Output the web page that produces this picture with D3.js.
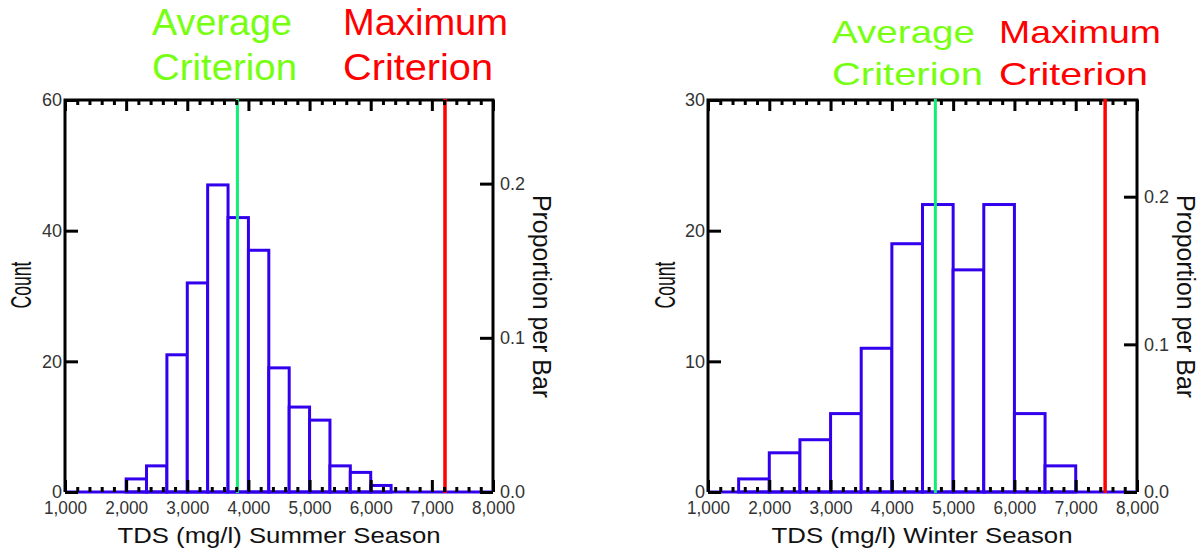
<!DOCTYPE html>
<html lang="en">
<head>
<meta charset="utf-8" />
<title>TDS histograms, summer and winter</title>
<script src="https://d3js.org/d3.v7.min.js"></script>
<style>
  body { margin: 0; background: #fff; }
  svg { display: block; font-family: Arial, "Liberation Sans", Helvetica, sans-serif; }
</style>
</head>
<body>
<script>
// bin edges (mg/l) and counts
var summerEdges = [2000, 2333.3, 2666.7, 3000, 3333.3, 3666.7, 4000, 4333.3, 4666.7, 5000, 5333.3, 5666.7, 6000, 6333.3];
var summerCounts = [2, 4, 21, 32, 47, 42, 37, 19, 13, 11, 4, 3, 1];
var winterEdges = [1500, 2000, 2500, 3000, 3500, 4000, 4500, 5000, 5500, 6000, 6500, 7000];
var winterCounts = [1, 3, 4, 6, 11, 19, 22, 17, 22, 6, 2];

var tdsTicks = [1000, 2000, 3000, 4000, 5000, 6000, 7000, 8000];
var tdsMinorTicks = [1200, 1400, 1600, 1800, 2200, 2400, 2600, 2800, 3200, 3400, 3600, 3800,
                     4200, 4400, 4600, 4800, 5200, 5400, 5600, 5800, 6200, 6400, 6600, 6800,
                     7200, 7400, 7600, 7800];
var summerCountTicks = [0, 20, 40, 60];
var winterCountTicks = [0, 10, 20, 30];
var proportionTicks = [0.0, 0.1, 0.2];

// average / maximum criterion lines (mg/l)
var summerCriteria = [3820, 7215];
var winterCriteria = [4710, 7480];
var criteriaNames = [["Average", "Criterion"], ["Maximum", "Criterion"]];
var xTitles = ["TDS (mg/l) Summer Season", "TDS (mg/l) Winter Season"];

var blue = "#3300ee";
var critColors = ["#11ee77", "#ff0000"];
var critTextColors = ["#77ff11", "#ff0000"];

var svg = d3.select("body").append("svg")
  .attr("width", 1204)
  .attr("height", 554);

var panels = [
  { edges: summerEdges, counts: summerCounts, countTicks: summerCountTicks, countMax: 60,
    crit: summerCriteria, xTitle: xTitles[0],
    x0: 65, x1: 493, y0: 100, y1: 492,
    titleX: [152, 343], titleBase: [35, 80], titleSize: 37,
    titleW: [[140, 145], [165, 150]],
    countX: 20, propX: 542, xTitleX: 279, xTitleW: 323 },
  { edges: winterEdges, counts: winterCounts, countTicks: winterCountTicks, countMax: 30,
    crit: winterCriteria, xTitle: xTitles[1],
    x0: 708, x1: 1137, y0: 100, y1: 492,
    titleX: [832, 999], titleBase: [43, 85], titleSize: 32,
    titleW: [[143, 151], [162, 149]],
    countX: 664, propX: 1186, xTitleX: 922, xTitleW: 301 }
];

panels.forEach(drawPanel);

function drawPanel(p) {
  var g = svg.append("g");
  var x = d3.scaleLinear().domain([1000, 8000]).range([p.x0, p.x1]);
  var y = d3.scaleLinear().domain([0, p.countMax]).range([p.y1, p.y0]);
  var total = d3.sum(p.counts);
  var yProp = d3.scaleLinear().domain([0, p.countMax / total]).range([p.y1, p.y0]);

  // frame (left, right, top)
  g.append("path")
    .attr("d", "M" + p.x0 + "," + p.y1 + "V" + p.y0 + "H" + p.x1 + "V" + p.y1)
    .attr("fill", "none")
    .attr("stroke", "#000")
    .attr("stroke-width", 3);

  var bins = p.counts.map(function(c, i) {
    return { lo: p.edges[i], hi: p.edges[i + 1], n: c };
  });

  g.selectAll("rect.bar")
    .data(bins)
    .enter()
    .append("rect")
    .attr("class", "bar")
    .attr("x", function(d) { return x(d.lo); })
    .attr("y", function(d) { return y(d.n); })
    .attr("width", function(d) { return x(d.hi) - x(d.lo); })
    .attr("height", function(d) { return y(0) - y(d.n); })
    .attr("fill", "#fff")
    .attr("stroke", blue)
    .attr("stroke-width", 3);

  // blue baseline
  g.append("line")
    .attr("x1", x(1000)).attr("x2", x(8000))
    .attr("y1", y(0)).attr("y2", y(0))
    .attr("stroke", blue)
    .attr("stroke-width", 3);

  // criterion lines
  g.selectAll("line.crit")
    .data(p.crit)
    .enter()
    .append("line")
    .attr("class", "crit")
    .attr("x1", function(d) { return x(d); })
    .attr("x2", function(d) { return x(d); })
    .attr("y1", p.y0 - 1)
    .attr("y2", p.y1 + 1)
    .attr("stroke", function(d, i) { return critColors[i]; })
    .attr("stroke-width", function(d, i) { return i ? 3.5 : 3; });

  // axes, ticks pointing inward
  function style(sel) {
    sel.attr("font-size", null).attr("font-family", null);
    sel.select(".domain").remove();
    sel.selectAll(".tick line").attr("stroke", "#000").attr("stroke-width", 3);
    sel.selectAll(".tick text").attr("fill", "#333").style("font-size", "18px");
  }

  g.append("g").attr("transform", "translate(0," + p.y0 + ")")
    .call(d3.axisTop(x).tickValues(tdsMinorTicks).tickSize(-5).tickFormat(""))
    .call(style);
  g.append("g").attr("transform", "translate(0," + p.y0 + ")")
    .call(d3.axisTop(x).tickValues(tdsTicks).tickSize(-11).tickFormat(""))
    .call(style);
  g.append("g").attr("transform", "translate(0," + p.y1 + ")")
    .call(d3.axisBottom(x).tickValues(tdsMinorTicks).tickSize(-5).tickFormat(""))
    .call(style);
  g.append("g").attr("transform", "translate(0," + p.y1 + ")")
    .call(d3.axisBottom(x).tickValues(tdsTicks).tickSize(-12).tickPadding(9).tickFormat(d3.format(",")))
    .call(style)
    .selectAll(".tick text")
    .attr("textLength", 43)
    .attr("lengthAdjust", "spacingAndGlyphs");
  g.append("g").attr("transform", "translate(" + p.x0 + ",0)")
    .call(d3.axisLeft(y).tickValues(p.countTicks).tickSize(-13).tickPadding(3))
    .call(style);
  g.append("g").attr("transform", "translate(" + p.x1 + ",0)")
    .call(d3.axisRight(yProp).tickValues(proportionTicks).tickSize(-13).tickPadding(7).tickFormat(d3.format(".1f")))
    .call(style);

  // criterion titles above the plot
  criteriaNames.forEach(function(lines, i) {
    lines.forEach(function(t, j) {
      g.append("text")
        .attr("x", p.titleX[i])
        .attr("y", p.titleBase[j])
        .attr("fill", critTextColors[i])
        .attr("font-size", p.titleSize)
        .attr("textLength", p.titleW[i][j])
        .attr("lengthAdjust", "spacingAndGlyphs")
        .text(t);
    });
  });

  // axis titles
  g.append("text")
    .attr("transform", "translate(" + p.xTitleX + ",543)")
    .attr("text-anchor", "middle")
    .attr("font-size", 22.5)
    .attr("fill", "#111")
    .attr("textLength", p.xTitleW)
    .attr("lengthAdjust", "spacingAndGlyphs")
    .text(p.xTitle);

  g.append("text")
    .attr("transform", "translate(" + p.countX + ",285) rotate(-90)")
    .attr("text-anchor", "middle")
    .attr("dy", "0.36em")
    .attr("font-size", 30)
    .attr("fill", "#111")
    .attr("textLength", 47)
    .attr("lengthAdjust", "spacingAndGlyphs")
    .text("Count");

  g.append("text")
    .attr("transform", "translate(" + p.propX + ",296.5) rotate(90)")
    .attr("text-anchor", "middle")
    .attr("dy", "0.36em")
    .attr("font-size", 25)
    .attr("fill", "#111")
    .attr("textLength", 203)
    .attr("lengthAdjust", "spacingAndGlyphs")
    .text("Proportion per Bar");
}
</script>
</body>
</html>
